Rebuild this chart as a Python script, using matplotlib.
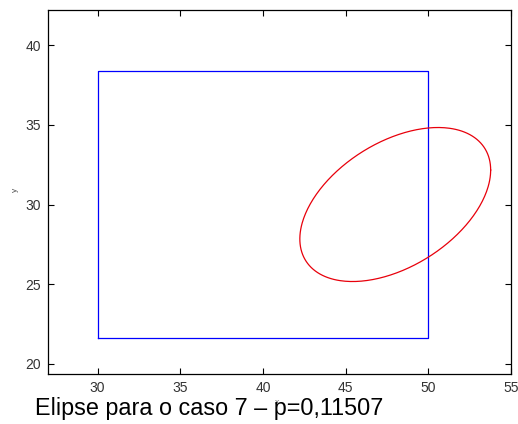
import numpy as np
import matplotlib
matplotlib.use("Agg")
import matplotlib.pyplot as plt

plt.rcParams['font.family'] = ['Liberation Sans', 'DejaVu Sans']

# rectangle (blue box)
rect_x = [30, 50, 50, 30, 30]
rect_y = [21.6, 21.6, 38.4, 38.4, 21.6]

# ellipse parameters
ell_center = (48.0, 30.0)
ell_halfwidth = 5.77   # half extent in x
ell_halfheight = 4.83  # half extent in y
ell_phase = np.deg2rad(63.4)  # phase shift between x and y

xticks = [30, 35, 40, 45, 50, 55]
yticks = [20, 25, 30, 35, 40]
caption = "Elipse para o caso 7 – p=0,11507"

t = np.linspace(0, 2 * np.pi, 300)
ex = ell_center[0] + ell_halfwidth * np.cos(t)
ey = ell_center[1] + ell_halfheight * np.cos(t - ell_phase)

fig = plt.figure(figsize=(5.18, 4.24), dpi=100)
ax = fig.add_axes([48 / 518, 1 - 374 / 424, 463 / 518, 364 / 424])

ax.plot(rect_x, rect_y, color='#0000ff', lw=0.9)
ax.plot(ex, ey, color='#e8000b', lw=0.9)

ax.set_xlim(27, 55)
ax.set_ylim(19.37, 42.2)
ax.set_xticks(xticks)
ax.set_yticks(yticks)
ax.tick_params(direction='in', length=4, width=0.8, top=True, right=True,
               labelsize=10, labelcolor='#333333', pad=5)
for s in ax.spines.values():
    s.set_linewidth(0.9)

fig.text(277 / 518, 1 - 402 / 424, "x", fontsize=6, ha='center', va='center', color='#666666')
fig.text(15 / 518, 1 - 190 / 424, "y", fontsize=6, ha='center', va='center',
         rotation=90, color='#555555')
fig.text(35 / 518, 1 - 415 / 424, caption, fontsize=16.8, ha='left', va='baseline')

fig.savefig("out.png", dpi=100)
